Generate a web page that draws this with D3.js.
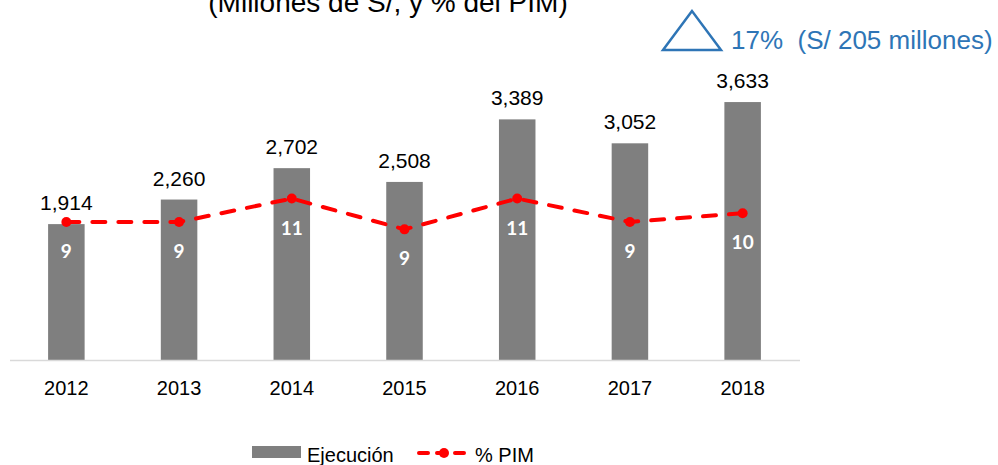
<!DOCTYPE html>
<html lang="es">

<head>
  <meta charset="UTF-8">
  <title>Ejecución y % PIM</title>
  <script src="https://cdn.jsdelivr.net/npm/d3@7"></script>
  <style>
    body {
      margin: 0;
      background: #fff;
    }

    text {
      font-family: "Liberation Sans", Arial, sans-serif;
    }

    .value {
      font-size: 21px;
      fill: #000;
      text-anchor: middle;
    }

    .year {
      font-size: 20px;
      fill: #000;
      text-anchor: middle;
    }

    .pct {
      font-family: Lato, "Open Sans", sans-serif;
      font-weight: bold;
      font-size: 19px;
      fill: #fff;
      text-anchor: middle;
    }

    .title {
      font-size: 28px;
      fill: #000;
      text-anchor: middle;
    }

    .note {
      font-size: 26px;
      fill: #2E75B6;
      white-space: pre;
    }

    .legend text {
      font-size: 20px;
      fill: #000;
    }
  </style>
</head>

<body>
  <svg width="998" height="465"></svg>
  <script>
    const years = ['2012', '2013', '2014', '2015', '2016', '2017', '2018'];
    const ejecucion = [1914, 2260, 2702, 2508, 3389, 3052, 3633];
    const pim = [9.4, 9.4, 11.0, 8.9, 11.0, 9.4, 10.0];

    const svg = d3.select('svg');
    const base = 360;

    const x = d3.scaleBand()
      .domain(years)
      .range([10, 799])
      .paddingInner(0.676)
      .paddingOuter(0.338);

    const y = d3.scaleLinear()
      .domain([0, 4000])
      .range([base, base - 284]);

    // secondary axis for the % line (not drawn)
    const y2 = d3.scaleLinear()
      .domain([0, 20])
      .range([base, base - 20 * 14.68]);

    const cx = d => x(d) + x.bandwidth() / 2;

    // title is cut by the top edge, as in the original
    svg.append('text')
      .attr('class', 'title')
      .attr('x', 388)
      .attr('y', 12)
      .text('(Millones de S/, y % del PIM)');

    // bars
    svg.selectAll('.bar')
      .data(years)
      .enter()
      .append('rect')
      .attr('class', 'bar')
      .attr('x', d => x(d))
      .attr('width', x.bandwidth())
      .attr('y', (d, i) => y(ejecucion[i]))
      .attr('height', (d, i) => base - y(ejecucion[i]))
      .attr('fill', '#7f7f7f');

    svg.selectAll('.value')
      .data(years)
      .enter()
      .append('text')
      .attr('class', 'value')
      .attr('x', cx)
      .attr('y', (d, i) => y(ejecucion[i]) - 14)
      .text((d, i) => d3.format(',')(ejecucion[i]));

    // x axis
    svg.append('line')
      .attr('x1', 10)
      .attr('x2', 800)
      .attr('y1', base + 0.5)
      .attr('y2', base + 0.5)
      .attr('stroke', '#d9d9d9')
      .attr('stroke-width', 1.5);

    svg.selectAll('.year')
      .data(years)
      .enter()
      .append('text')
      .attr('class', 'year')
      .attr('x', cx)
      .attr('y', 395)
      .text(d => d);

    // % PIM line
    const line = d3.line()
      .x(d => cx(d))
      .y((d, i) => y2(pim[i]));

    svg.append('path')
      .datum(years)
      .attr('d', line)
      .attr('fill', 'none')
      .attr('stroke', '#ff0000')
      .attr('stroke-width', 4)
      .attr('stroke-linecap', 'round')
      .attr('stroke-dasharray', '13,13');

    svg.selectAll('.dot')
      .data(years)
      .enter()
      .append('circle')
      .attr('class', 'dot')
      .attr('cx', cx)
      .attr('cy', (d, i) => y2(pim[i]))
      .attr('r', 5)
      .attr('fill', '#ff0000');

    svg.selectAll('.pct')
      .data(years)
      .enter()
      .append('text')
      .attr('class', 'pct')
      .attr('x', cx)
      .attr('y', (d, i) => y2(pim[i]) + 36)
      .text((d, i) => d3.format('.0f')(pim[i]));

    // annotation
    svg.append('path')
      .attr('d', 'M692,11L663,50L721,50Z')
      .attr('fill', 'none')
      .attr('stroke', '#2E75B6')
      .attr('stroke-width', 2.5);

    svg.append('text')
      .attr('class', 'note')
      .attr('x', 731)
      .attr('y', 49)
      .text('17%  (S/ 205 millones)');

    // legend
    const legend = svg.append('g').attr('class', 'legend');

    legend.append('rect')
      .attr('x', 252)
      .attr('y', 446)
      .attr('width', 49)
      .attr('height', 12)
      .attr('fill', '#7f7f7f');

    legend.append('text')
      .attr('x', 307)
      .attr('y', 462)
      .text('Ejecución');

    legend.append('line')
      .attr('x1', 419)
      .attr('x2', 464)
      .attr('y1', 453)
      .attr('y2', 453)
      .attr('stroke', '#ff0000')
      .attr('stroke-width', 4)
      .attr('stroke-linecap', 'round')
      .attr('stroke-dasharray', '9,9');

    legend.append('circle')
      .attr('cx', 444)
      .attr('cy', 453)
      .attr('r', 5)
      .attr('fill', '#ff0000');

    legend.append('text')
      .attr('x', 475)
      .attr('y', 462)
      .text('% PIM');
  </script>
</body>

</html>
